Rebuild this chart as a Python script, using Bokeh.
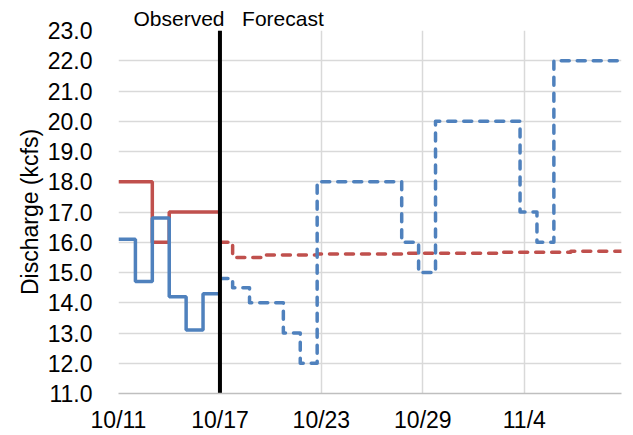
from bokeh.plotting import figure
from bokeh.models import FixedTicker, PrintfTickFormatter, Range1d
from bokeh.embed import file_html
from bokeh.resources import INLINE

# x positions are days since 10/11
tick_days = [0, 6, 12, 18, 24]
tick_labels = ["10/11", "10/17", "10/23", "10/29", "11/4"]
y_ticks = [11, 12, 13, 14, 15, 16, 17, 18, 19, 20, 21, 22, 23]
x_end = 29.75

# Observed
obs_day = [0, 1, 2, 3, 4, 5, 6]
obs_flow = [16.1, 14.7, 16.8, 14.2, 13.1, 14.3, 14.3]
obs_target_day = [0, 2, 3, 6]
obs_target = [18.0, 16.0, 17.0, 17.0]

# Forecast
fc_day = [6.0, 6.75, 7.75, 9.75, 10.75, 11.75, 16.75, 17.75, 18.75, 23.75, 24.75, 25.75, 29.75]
fc_flow = [14.8, 14.5, 14.0, 13.0, 12.0, 18.0, 16.0, 15.0, 20.0, 17.0, 16.0, 22.0, 22.0]
fc_target_day = [6.0, 6.75, 8.75, 11.75, 16.75, 22.75, 26.75, 29.75]
fc_target = [16.0, 15.50, 15.58, 15.61, 15.64, 15.67, 15.70, 15.70]

forecast_start = 6
header = "Observed\u00a0\u00a0\u00a0Forecast"

BLUE = "#4F81BD"
RED = "#C0504D"
FONT = "Liberation Sans"
FS = "23px"
LW = 3.5

p = figure(width=633, height=435, x_range=Range1d(0, x_end), y_range=Range1d(11, 23),
           output_backend="svg", toolbar_location=None,
           min_border_left=118, min_border_right=12, min_border_top=30, min_border_bottom=42)
p.outline_line_color = None
p.background_fill_color = "white"
p.border_fill_color = "white"

p.title.text = header
p.title.align = "left"
p.title.offset = 15
p.title.standoff = 1
p.title.text_font = FONT
p.title.text_font_size = "21px"
p.title.text_font_style = "normal"
p.title.text_color = "black"

p.xaxis.ticker = FixedTicker(ticks=tick_days)
p.xgrid.ticker = FixedTicker(ticks=tick_days)
p.xaxis.major_label_overrides = {d: l for d, l in zip(tick_days, tick_labels)}
p.yaxis.ticker = FixedTicker(ticks=y_ticks)
p.ygrid.ticker = FixedTicker(ticks=y_ticks)
p.yaxis.formatter = PrintfTickFormatter(format="%.1f")

for g in (p.xgrid, p.ygrid):
    g.grid_line_color = "#D9D9D9"
    g.grid_line_width = 1.5

for ax in (p.xaxis, p.yaxis):
    ax.major_tick_line_color = None
    ax.minor_tick_line_color = None
    ax.major_tick_out = 0
    ax.major_tick_in = 0
    ax.minor_tick_out = 0
    ax.minor_tick_in = 0
    ax.major_label_text_font = FONT
    ax.major_label_text_font_size = FS
    ax.major_label_text_color = "black"
    ax.axis_label_text_font = FONT
    ax.axis_label_text_font_size = FS
    ax.axis_label_text_font_style = "normal"
    ax.axis_label_text_color = "black"

p.xaxis.axis_line_color = "#BFBFBF"
p.xaxis.axis_line_width = 1.5
p.xaxis.major_label_standoff = 13
p.yaxis.axis_line_color = None
p.yaxis.major_label_standoff = 26
p.yaxis.axis_label = "Discharge (kcfs)"
p.yaxis.axis_label_standoff = 2

p.step(obs_target_day, obs_target, mode="after", line_color=RED, line_width=LW)
p.step(obs_day, obs_flow, mode="after", line_color=BLUE, line_width=LW)
p.step(fc_target_day, fc_target, mode="after", line_color=RED, line_width=LW,
       line_dash="8 8", line_cap="round", line_join="round")
p.step(fc_day, fc_flow, mode="after", line_color=BLUE, line_width=LW,
       line_dash="8 8", line_cap="round", line_join="round")
p.segment(x0=[forecast_start], y0=[11], x1=[forecast_start], y1=[23],
          line_color="black", line_width=4)

open("out.html", "w").write(file_html(p, INLINE))
